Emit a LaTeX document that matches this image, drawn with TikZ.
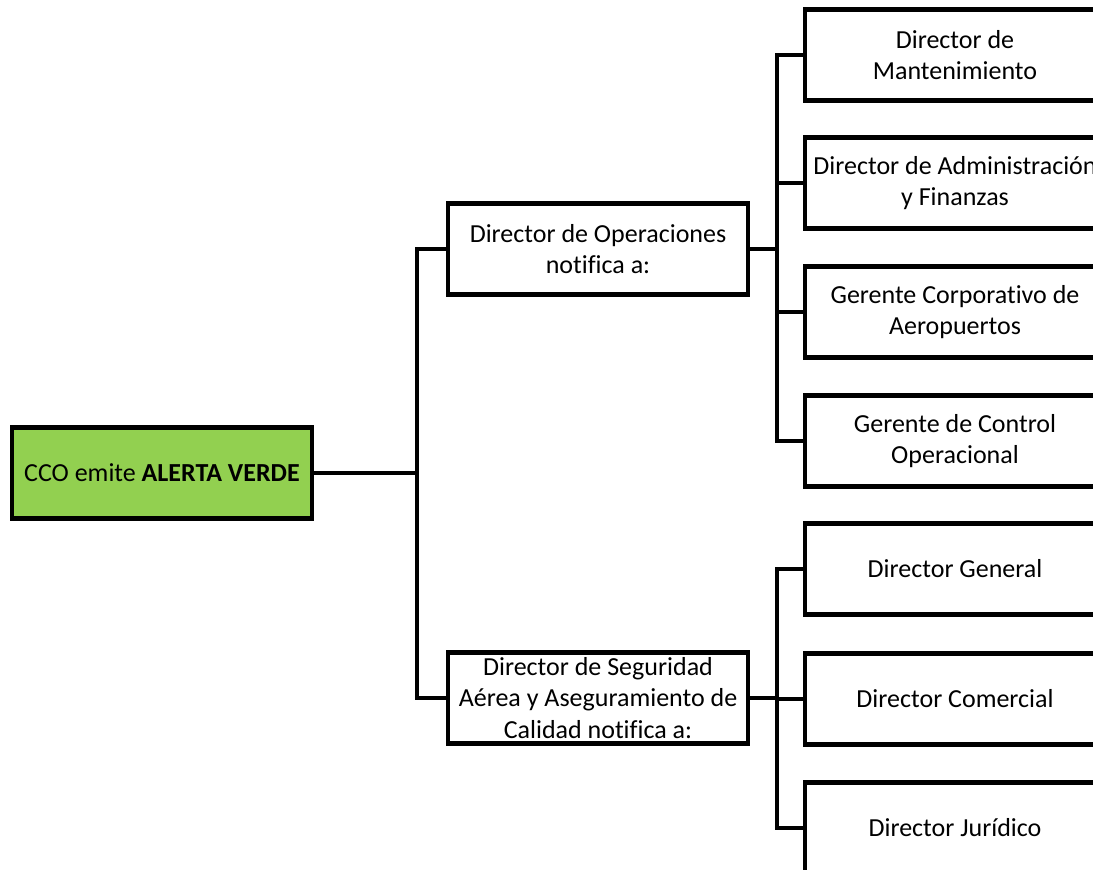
\documentclass[tikz,border=0pt]{standalone}
\usepackage{fontspec}
\setmainfont[Ligatures=CommonOff]{Carlito}
\usepackage{xcolor}
\usetikzlibrary{positioning,calc}
\definecolor{verde}{HTML}{92D050}

\begin{document}
\begin{tikzpicture}[x=0.75pt,y=-0.75pt,
    caja/.style={draw, line width=3.4pt, fill=white, minimum width=225pt, minimum height=68pt,
        align=center, inner sep=1pt, font=\fontsize{19.5}{23.3}\selectfont},
    enlace/.style={line width=3.4pt}]
    \path[use as bounding box, clip] (0,0) rectangle (1093,869);

    % raiz
    \node[caja, fill=verde] (cco) at (162,473) {CCO emite \textbf{ALERTA VERDE}};

    % primer nivel
    \node[caja] (ops) at (598,249) {Director de Operaciones\\notifica a:};
    \node[caja] (seg) at (598,698) {Director de Seguridad\\A\'erea y Aseguramiento de\\Calidad notifica a:};

    % segundo nivel (operaciones)
    \node[caja] (mant) at (955,55) {Director de\\Mantenimiento};
    \node[caja] (admin) at (955,183) {Director de Administraci\'on\\y Finanzas};
    \node[caja] (corp) at (955,312) {Gerente Corporativo de\\Aeropuertos};
    \node[caja] (ctrl) at (955,441) {Gerente de Control\\Operacional};

    % segundo nivel (seguridad)
    \node[caja] (gen) at (955,569) {Director General};
    \node[caja] (com) at (955,699) {Director Comercial};
    \node[caja] (jur) at (955,828) {Director Jur\'idico};

    % conexiones
    \coordinate (busL) at (417,473);
    \coordinate (busA) at (777,249);
    \coordinate (busB) at (777,698);
    \draw[enlace] (cco.east) -- (busL);
    \draw[enlace] (ops.west) -| (busL) |- (seg.west);
    \draw[enlace] (ops.east) -- (busA);
    \draw[enlace] (seg.east) -- (busB);
    \foreach \n in {mant,admin,corp,ctrl}
        \draw[enlace] (busA) |- (\n.west);
    \foreach \n in {gen,com,jur}
        \draw[enlace] (busB) |- (\n.west);
\end{tikzpicture}
\end{document}
